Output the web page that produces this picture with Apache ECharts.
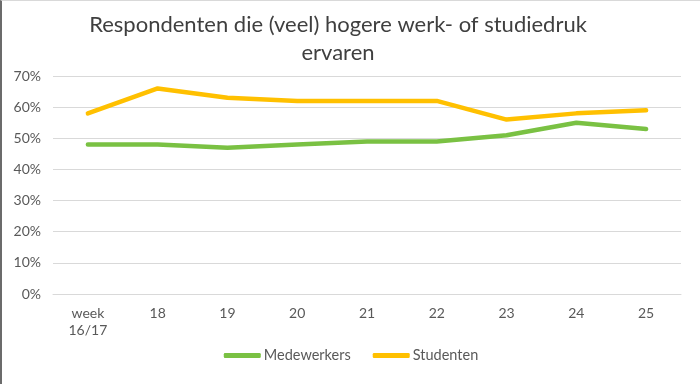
<!DOCTYPE html>
<html>
<head>
<meta charset="utf-8">
<script src="https://cdn.jsdelivr.net/npm/echarts@6/dist/echarts.min.js"></script>
<style>
html,body{margin:0;padding:0;background:#fff;}
#c{width:698px;height:383px;border-left:2px solid #6b6b6b;border-top:1px solid #d9d9d9;}
</style>
</head>
<body>
<div id="c"></div>
<script>
const categories = ['week\n16/17', '18', '19', '20', '21', '22', '23', '24', '25'];
const medewerkers = [48, 48, 47, 48, 49, 49, 51, 55, 53];
const studenten = [58, 66, 63, 62, 62, 62, 56, 58, 59];
const yTicks = [0, 10, 20, 30, 40, 50, 60, 70];
const titleText = 'Respondenten die (veel) hogere werk- of studiedruk\nervaren';

const chart = echarts.init(document.getElementById('c'), null, {renderer: 'canvas'});
const font = 'Lato, "Open Sans", sans-serif';
chart.setOption({
  animation: false,
  graphic: [{
    type: 'text',
    x: 336,
    y: 10,
    style: {
      text: titleText,
      textAlign: 'center',
      fontFamily: font, fontSize: 22, fontWeight: 'normal', fill: '#3f3f3f', lineHeight: 28
    }
  }],
  legend: {
    bottom: 21,
    left: 'center',
    padding: [0, 0, 0, 0],
    itemWidth: 37,
    itemHeight: 5,
    itemGap: 22,
    icon: 'roundRect',
    textStyle: {fontFamily: font, fontSize: 14.5, color: '#595959', padding: [0, 0, 0, -2]},
    data: ['Medewerkers', 'Studenten']
  },
  grid: {left: 51, right: 19, top: 75, bottom: 90},
  xAxis: {
    type: 'category',
    data: categories,
    boundaryGap: true,
    axisLine: {show: true, lineStyle: {color: '#d9d9d9', width: 1}},
    axisTick: {show: false},
    axisLabel: {fontFamily: font, fontSize: 14, color: '#595959', margin: 11, lineHeight: 17}
  },
  yAxis: {
    type: 'value',
    min: yTicks[0],
    max: yTicks[yTicks.length - 1],
    interval: 10,
    axisLine: {show: false},
    axisTick: {show: false},
    splitLine: {lineStyle: {color: '#d9d9d9', width: 1}},
    axisLabel: {fontFamily: font, fontSize: 14, color: '#595959', margin: 12, formatter: v => v + '%'}
  },
  series: [
    {
      name: 'Medewerkers', type: 'line', data: medewerkers,
      symbol: 'none', lineStyle: {width: 4.5, color: '#7ac143', cap: 'round', join: 'round'},
      itemStyle: {color: '#7ac143'}
    },
    {
      name: 'Studenten', type: 'line', data: studenten,
      symbol: 'none', lineStyle: {width: 4.5, color: '#ffc000', cap: 'round', join: 'round'},
      itemStyle: {color: '#ffc000'}
    }
  ]
});
</script>
</body>
</html>
